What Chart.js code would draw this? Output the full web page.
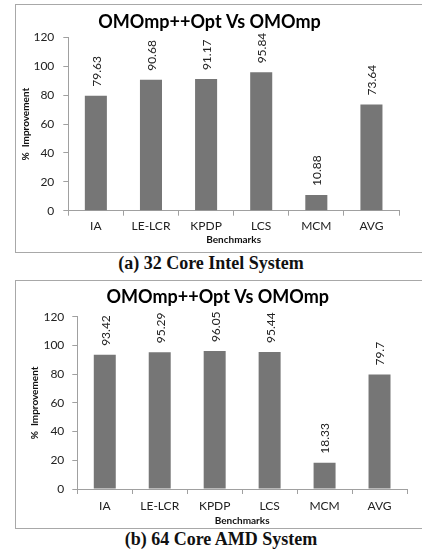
<!DOCTYPE html>
<html>
<head>
<meta charset="utf-8">
<script src="https://cdn.jsdelivr.net/npm/chart.js@4.4.1/dist/chart.umd.min.js"></script>
<style>
  body { margin: 0; background: #fff; width: 422px; height: 552px; overflow: hidden; position: relative; }
  .frame { position: absolute; border: 1px solid #a8a8a8; }
  canvas { position: absolute; }
  .cap { position: absolute; font: bold 18px "Liberation Serif", serif; line-height: 20px; color: #111; white-space: nowrap; transform: translateX(-50%); }
</style>
</head>
<body>
<div class="frame" style="left:15px;top:4px;width:420px;height:247px"></div>
<canvas id="intelChart" style="left:16px;top:5px" width="406" height="247"></canvas>
<div class="cap" style="left:211px;top:253px">(a) 32 Core Intel System</div>

<div class="frame" style="left:15px;top:280px;width:420px;height:247px"></div>
<canvas id="amdChart" style="left:16px;top:281px" width="406" height="247"></canvas>
<div class="cap" style="left:221px;top:529px">(b) 64 Core AMD System</div>

<script>
const benchmarks = ["IA", "LE-LCR", "KPDP", "LCS", "MCM", "AVG"];
const intelImprovement = [79.63, 90.68, 91.17, 95.84, 10.88, 73.64];
const amdImprovement = [93.42, 95.29, 96.05, 95.44, 18.33, 79.7];
const yTicks = [0, 20, 40, 60, 80, 100, 120];

const chartTitle = "OMOmp++Opt Vs OMOmp";
const axisColor = "#a0a0a0";
const textColor = "#222";

// rotated value labels above each bar
const valueLabels = {
  id: "valueLabels",
  afterDatasetsDraw(chart) {
    const ctx = chart.ctx;
    const vals = chart.data.datasets[0].data;
    ctx.save();
    ctx.font = "12px Lato";
    ctx.fillStyle = textColor;
    ctx.textAlign = "left";
    ctx.textBaseline = "middle";
    chart.getDatasetMeta(0).data.forEach((bar, i) => {
      ctx.save();
      ctx.translate(bar.x + 1, bar.y - 9);
      ctx.rotate(-Math.PI / 2);
      ctx.fillText(String(vals[i]), 0, 0);
      ctx.restore();
    });
    ctx.restore();
  }
};

function makeChart(id, values, g) {
  return new Chart(id, {
    type: "bar",
    data: {
      labels: benchmarks,
      datasets: [{
        data: values,
        backgroundColor: "#767676",
        borderWidth: 0,
        barPercentage: 0.4,
        categoryPercentage: 1.0
      }]
    },
    options: {
      responsive: false,
      animation: false,
      layout: { padding: { left: g.padL, right: g.padR, top: 0, bottom: g.padB } },
      plugins: {
        legend: { display: false },
        tooltip: { enabled: false },
        title: {
          display: true,
          text: chartTitle,
          color: "#000",
          font: { family: "Lato", size: 18, weight: "bold" },
          padding: { top: g.titleTop, bottom: g.titleBottom }
        }
      },
      scales: {
        x: {
          grid: { drawOnChartArea: false, tickLength: 5, color: axisColor },
          border: { color: axisColor },
          ticks: { color: textColor, font: { family: "Lato", size: 12 }, padding: g.xTickPad },
          title: { display: true, text: "Benchmarks", color: "#111", font: { family: "Lato", size: 10, weight: "bold" }, padding: 0 },
          afterFit: s => { s.height = g.xHeight; }
        },
        y: {
          min: 0,
          max: 120,
          afterBuildTicks: s => { s.ticks = yTicks.map(v => ({ value: v })); },
          grid: { drawOnChartArea: false, tickLength: 5, color: axisColor },
          border: { color: axisColor },
          ticks: { color: textColor, font: { family: "Lato", size: 12 }, padding: g.yTickPad },
          title: { display: true, text: "%  Improvement", color: "#111", font: { family: "Lato", size: 10, weight: "bold" }, padding: 0 },
          afterFit: s => { s.width = g.yWidth; }
        }
      }
    },
    plugins: [valueLabels]
  });
}

makeChart("intelChart", intelImprovement, {
  padL: 4, padR: 23, padB: 6, yWidth: 48.3, xHeight: 35.3,
  titleTop: 6.2, titleBottom: 4.7, xTickPad: 3, yTickPad: 9
});

makeChart("amdChart", amdImprovement, {
  padL: 12.5, padR: 15, padB: 1, yWidth: 48.8, xHeight: 38,
  titleTop: 4.9, titleBottom: 9.2, xTickPad: 4.8, yTickPad: 8
});
</script>
</body>
</html>
